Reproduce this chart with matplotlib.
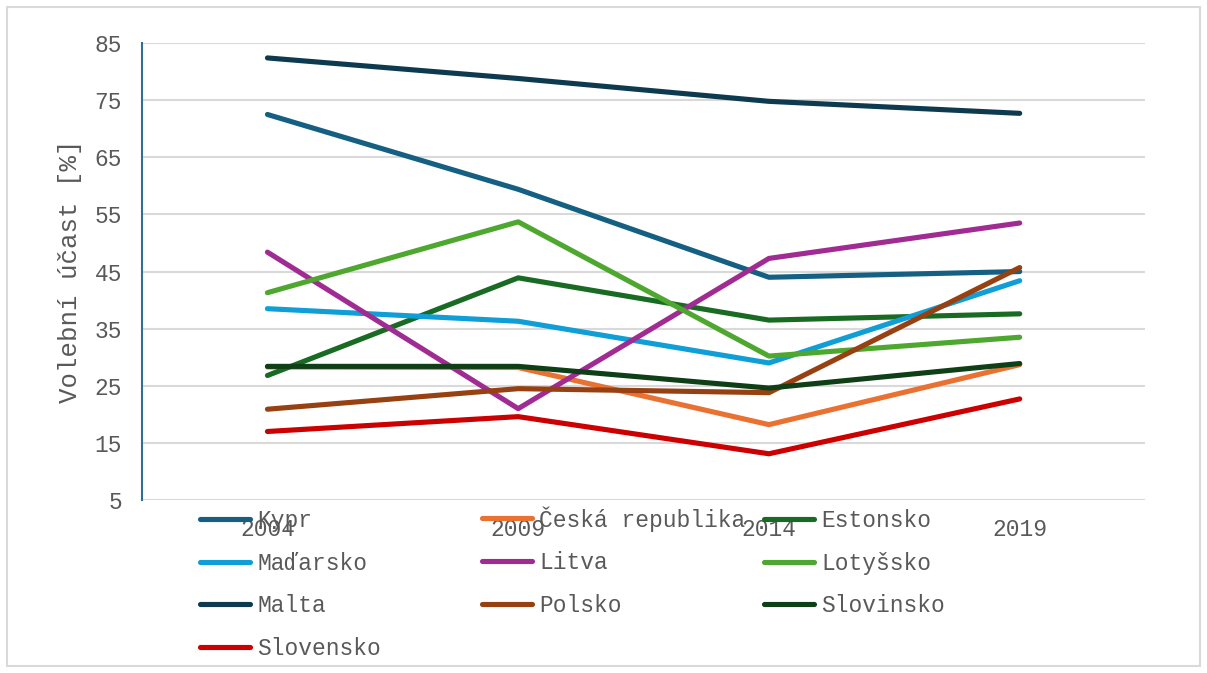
import matplotlib
matplotlib.use("Agg")
import matplotlib.pyplot as plt
from matplotlib.patches import Rectangle

plt.rcParams['font.family'] = ['Liberation Mono', 'DejaVu Sans Mono']

# data
years = ['2004', '2009', '2014', '2019']
kypr = [72.5, 59.4, 44.0, 45.0]
ceska = [28.3, 28.2, 18.2, 28.7]
estonsko = [26.8, 43.9, 36.5, 37.6]
madarsko = [38.5, 36.3, 29.0, 43.4]
litva = [48.4, 21.0, 47.3, 53.5]
lotyssko = [41.3, 53.7, 30.2, 33.5]
malta = [82.4, 78.8, 74.8, 72.7]
polsko = [20.9, 24.5, 23.8, 45.7]
slovinsko = [28.4, 28.4, 24.6, 28.9]
slovensko = [17.0, 19.6, 13.1, 22.7]

series = [
    ('Kypr', kypr, '#156082'),
    ('Česká republika', ceska, '#E97132'),
    ('Estonsko', estonsko, '#196B24'),
    ('Maďarsko', madarsko, '#0F9ED5'),
    ('Litva', litva, '#A02B93'),
    ('Lotyšsko', lotyssko, '#4EA72E'),
    ('Malta', malta, '#0E3A4F'),
    ('Polsko', polsko, '#974113'),
    ('Slovinsko', slovinsko, '#0F3F17'),
    ('Slovensko', slovensko, '#CC0000'),
]

grey = '#595959'

fig = plt.figure(figsize=(12.07, 6.73), dpi=100)
ax = fig.add_axes([0.1177, 0.257, 0.831, 0.679])

x = list(range(len(years)))
lines = {}
for name, vals, col in series:
    ln, = ax.plot(x, vals, color=col, lw=3.7, solid_capstyle='round',
                  solid_joinstyle='round', label=name)
    lines[name] = ln

ax.set_xlim(-0.5, len(years) - 0.5)
ax.set_ylim(5, 85)
ax.set_yticks(range(5, 86, 10))
ax.set_xticks(x)
ax.set_xticklabels(years)
ax.tick_params(axis='both', length=0, labelsize=16.5, colors=grey)
ax.tick_params(axis='y', pad=14.5)
ax.tick_params(axis='x', pad=13)
ax.yaxis.grid(True, color='#D9D9D9', lw=1.5)
ax.set_axisbelow(True)
for s in ['top', 'right', 'bottom']:
    ax.spines[s].set_visible(False)
ax.spines['left'].set_color('#2F6F95')
ax.spines['left'].set_linewidth(1.5)
ax.set_ylabel('Volební účast [%]', fontsize=18.5, color=grey, labelpad=9)

# legend in three fixed columns (overlaps the year labels, as in the original)
cols = [
    ['Kypr', 'Maďarsko', 'Malta', 'Slovensko'],
    ['Česká republika', 'Litva', 'Polsko'],
    ['Estonsko', 'Lotyšsko', 'Slovinsko'],
]
col_x = [200, 482, 764]
col_top = [509, 506, 509]
for names, cx, cy in zip(cols, col_x, col_top):
    leg = fig.legend([lines[n] for n in names], names,
                     loc='upper left', bbox_to_anchor=(cx / 1207, 1 - cy / 673),
                     frameon=False, fontsize=16.5, handlelength=2.2,
                     handletextpad=0.3, labelspacing=0.86, borderpad=0,
                     borderaxespad=0)
    for t in leg.get_texts():
        t.set_color(grey)

fig.add_artist(Rectangle((7 / 1207, 7 / 673), 1 - 14 / 1207, 1 - 14 / 673,
                         transform=fig.transFigure, fill=False,
                         edgecolor='#D9D9D9', lw=1.5))

fig.savefig('out.png', dpi=100)
